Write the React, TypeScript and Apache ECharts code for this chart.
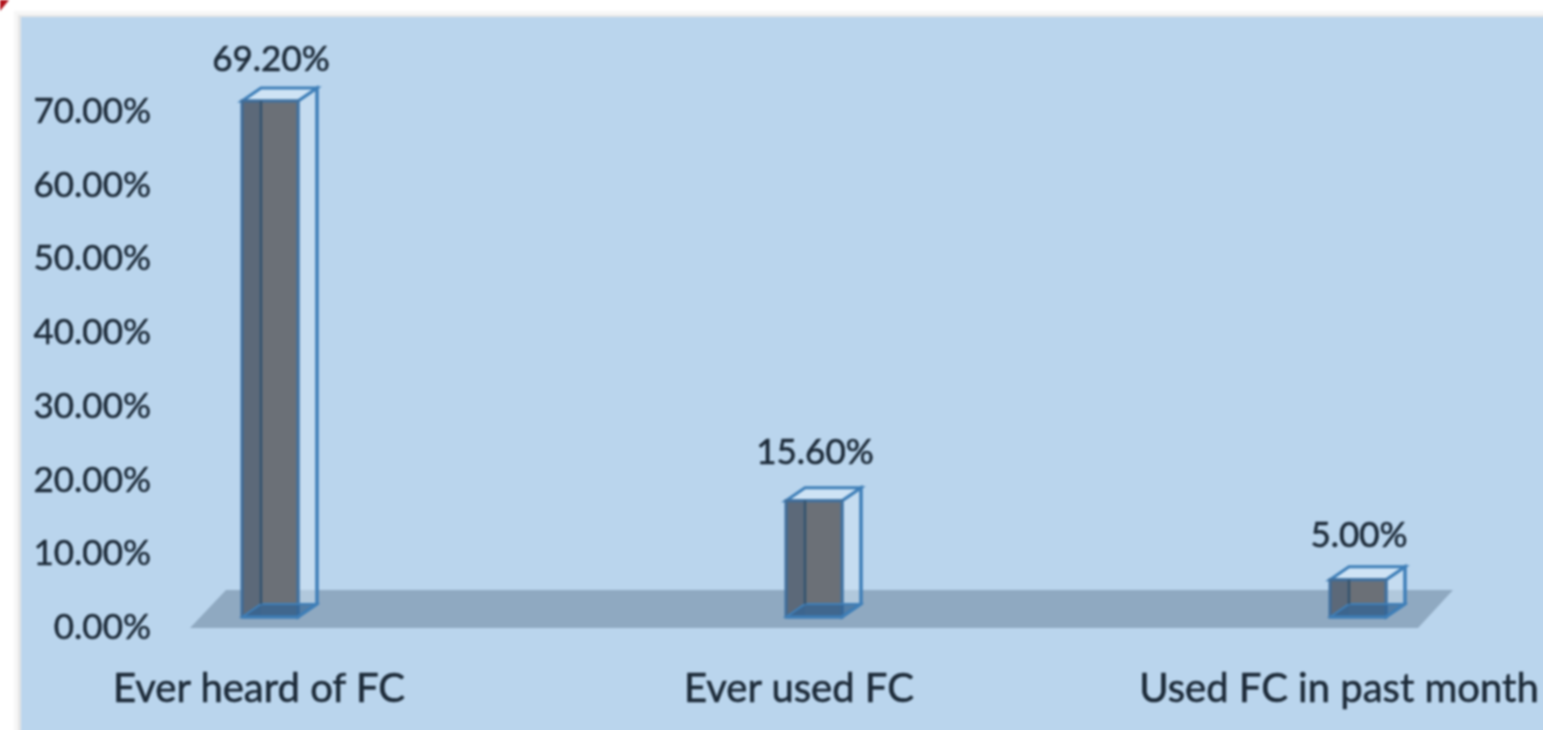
import React, { useEffect, useRef } from "react";
import * as echarts from "echarts";

const categories = ["Ever heard of FC", "Ever used FC", "Used FC in past month"];
const values = [69.2, 15.6, 5.0];
const yTicks = [0, 10, 20, 30, 40, 50, 60, 70];

const FONT = "Lato";
const TEXT = "#1c2a38";
const EDGE = "#3f7fb8";
const DEPTH_X = 19;
const DEPTH_Y = 13;
const BAR_W = 56;
const LABEL_LIFT = [31, 38, 34];

function renderBar(params: any, api: any) {
  const idx = api.value(0);
  const val = api.value(1);
  const top = api.coord([idx, val]);
  const base = api.coord([idx, 0]);
  const l = top[0] - BAR_W / 2;
  const r = top[0] + BAR_W / 2;
  const t = top[1];
  const b = base[1];
  const dx = DEPTH_X;
  const dy = DEPTH_Y;
  const edge = { fill: "none", stroke: EDGE, lineWidth: 3 };
  const thin = { fill: "none", stroke: "#34536f", lineWidth: 2.5 };
  return {
    type: "group",
    children: [
      { type: "polygon", shape: { points: [[r, t], [r + dx, t - dy], [r + dx, b - dy], [r, b]] }, style: { fill: "rgba(205,225,243,0.55)", stroke: EDGE, lineWidth: 3 } },
      { type: "polygon", shape: { points: [[l, t], [l + dx, t - dy], [r + dx, t - dy], [r, t]] }, style: { fill: "rgba(215,232,248,0.7)", stroke: EDGE, lineWidth: 3 } },
      { type: "rect", shape: { x: l, y: t, width: BAR_W, height: b - t }, style: { fill: "#6b7077", stroke: "#41719f", lineWidth: 3 } },
      { type: "rect", shape: { x: l, y: t, width: dx, height: b - t }, style: { fill: "rgba(60,90,125,0.3)" } },
      { type: "polygon", shape: { points: [[l, b], [l + dx, b - dy], [r + dx, b - dy], [r, b]] }, style: { fill: "rgba(50,100,150,0.75)", stroke: EDGE, lineWidth: 2 } },
      { type: "line", shape: { x1: l + dx, y1: t, x2: l + dx, y2: b - dy }, style: thin },
      { type: "polyline", shape: { points: [[l, b], [r, b], [r + dx, b - dy], [r + dx, t - dy]] }, style: edge },
      {
        type: "text",
        style: {
          x: top[0] + 1,
          y: t - dy - LABEL_LIFT[idx],
          text: val.toFixed(2) + "%",
          font: `35px ${FONT}`,
          fill: TEXT,
          stroke: TEXT,
          lineWidth: 0.6,
          align: "center",
          verticalAlign: "middle",
        },
      },
    ],
  };
}

export default function App() {
  const ref = useRef<HTMLDivElement>(null);
  useEffect(() => {
    document.body.style.margin = "0";
    document.body.style.background = "#fff";
    const chart = echarts.init(ref.current!, undefined, { renderer: "svg" });
    chart.setOption({
      animation: false,
      backgroundColor: "#ffffff",
      graphic: [
        { type: "rect", z: 0, shape: { x: 14, y: 11, width: 1539, height: 729 }, style: { fill: "#f6f6f6" } },
        { type: "rect", z: 0, shape: { x: 18, y: 15, width: 1535, height: 725 }, style: { fill: "#e6e6e6" } },
        { type: "rect", z: 0, shape: { x: 21, y: 17, width: 1532, height: 723 }, style: { fill: "#bad5ed" } },
        { type: "polygon", z: 0, shape: { points: [[0, 0], [9, 0], [0, 11]] }, style: { fill: "#b0121b" } },
        { type: "polygon", z: 0, shape: { points: [[190, 628], [1418, 628], [1453, 590], [226, 590]] }, style: { fill: "#8fa9c1" } },
      ],
      grid: [
        { left: -11, top: 109, width: 1620, height: 516, outerBoundsMode: "none" },
        { left: -2, top: 95, width: 1632, height: 522, outerBoundsMode: "none" },
      ],
      xAxis: [
        {
          type: "category",
          gridIndex: 0,
          data: categories,
          axisLine: { show: false },
          axisTick: { show: false },
          axisLabel: {
            margin: 42,
            interval: 0,
            hideOverlap: false,
            fontFamily: FONT,
            fontSize: 40,
            color: TEXT,
            textBorderColor: TEXT,
            textBorderWidth: 0.6,
          },
        },
        { type: "category", gridIndex: 1, data: categories, show: false },
      ],
      yAxis: [
        {
          type: "value",
          gridIndex: 0,
          min: 0,
          max: 70,
          interval: 10,
          offset: -162,
          splitLine: { show: false },
          axisLine: { show: false },
          axisTick: { show: false },
          axisLabel: {
            margin: 0,
            fontFamily: FONT,
            fontSize: 35,
            color: TEXT,
            textBorderColor: TEXT,
            textBorderWidth: 0.5,
            formatter: (v: number) => (yTicks.includes(v) ? v.toFixed(2) + "%" : ""),
          },
        },
        { type: "value", gridIndex: 1, min: 0, max: 70, show: false },
      ],
      series: [
        {
          type: "custom",
          xAxisIndex: 1,
          yAxisIndex: 1,
          clip: false,
          z: 5,
          renderItem: renderBar,
          data: values.map((v, i) => [i, v]),
        },
      ],
    });
    return () => chart.dispose();
  }, []);
  return (
    <div style={{ width: 1543, height: 730, overflow: "hidden" }}>
      <div ref={ref} style={{ width: 1553, height: 740, filter: "blur(1px)" }} />
    </div>
  );
}
